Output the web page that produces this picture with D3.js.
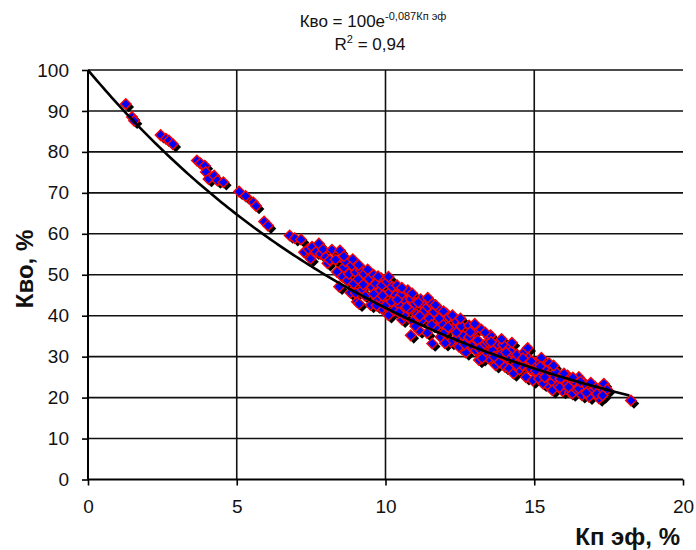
<!DOCTYPE html>
<html>
<head>
<meta charset="utf-8">
<script src="https://cdn.jsdelivr.net/npm/d3@7"></script>
<style>
  body { margin: 0; background: #fff; }
  svg { font-family: "Liberation Sans", Arial, sans-serif; }
</style>
</head>
<body>
<script>
// Кп эф, % (x) and Кво, % (y)
const kpEff = [
  1.27, 1.48, 1.55, 2.44, 2.62, 2.72, 2.85, 3.66, 3.78, 3.93, 3.96, 4.05, 4.24, 4.35, 4.55,
  5.08, 5.30, 5.55, 5.65, 5.92, 6.05,
  6.78, 6.95, 7.16, 7.26, 7.40, 7.53, 7.48, 7.66, 7.76, 7.82, 7.90, 7.99, 8.05, 8.12, 8.20,
  8.32, 8.37, 8.44, 8.47, 8.55, 8.60, 8.66, 8.72, 8.77, 8.82, 8.87, 8.93, 9.00, 9.04, 9.11,
  9.08, 9.17, 9.20, 9.28, 9.32, 9.38, 9.45, 9.50, 9.55, 9.60, 9.67, 9.72, 9.80, 9.85, 9.88,
  9.88, 9.95, 10.00, 10.05, 10.10, 10.15, 10.22, 10.29, 10.30, 10.34, 10.39, 10.45, 10.51,
  10.56, 10.62, 10.68, 10.75, 10.80, 10.85, 10.85, 10.92, 10.98, 11.05, 11.13, 11.18, 11.22,
  11.30, 11.35, 11.40, 11.48, 11.52, 11.57, 11.63, 11.70, 11.78, 11.85, 11.91, 11.98, 12.05,
  12.13, 12.20, 12.28, 12.35, 12.40, 12.47, 12.55, 12.62, 12.70, 12.75, 12.81, 12.81, 12.90,
  12.96, 13.03, 13.10, 13.14, 13.22, 13.30, 13.38, 13.44, 13.48, 13.48, 13.53, 13.60, 13.70,
  13.76, 13.82, 13.88, 13.95, 14.02, 14.08, 14.15, 14.15, 14.22, 14.30, 14.36, 14.42, 14.50,
  14.55, 14.60, 14.66, 14.72, 14.80, 14.88, 14.95, 15.02, 15.10, 15.16, 15.16, 15.24, 15.30,
  15.38, 15.45, 15.52, 15.61, 15.61, 15.68, 15.72, 15.80, 15.88, 15.95, 16.06, 16.12, 16.20,
  16.28, 16.35, 16.42, 16.50, 16.50, 16.60, 16.70, 16.84, 16.95, 17.05, 17.18, 17.25, 17.34,
  17.45, 18.25,
  8.60, 8.90, 9.10, 9.25, 9.40, 9.60, 9.75, 9.90, 10.10, 10.20, 10.40, 10.55, 10.70, 10.90,
  11.00, 11.10, 11.25, 11.42, 11.55, 11.68, 11.80, 11.95, 12.10, 12.25, 12.38, 12.52, 12.66,
  12.85, 13.00, 13.15, 13.35, 13.55, 13.65, 13.90, 14.05, 14.25, 14.40, 14.62, 14.78, 14.90,
  15.05, 15.20, 15.35, 15.50, 15.65, 15.85, 16.00, 16.15, 16.30, 16.55, 16.75, 16.90, 17.10,
  17.30, 9.00, 9.70, 10.45, 11.15, 12.00, 13.25
]
const kvo = [
  91.7, 88.5, 87.6, 84.1, 83.2, 82.8, 81.9, 77.9, 77.2, 76.6, 75.1, 73.4, 74.2, 73.0, 72.6,
  70.3, 69.2, 67.7, 66.8, 63.0, 62.0,
  59.6, 58.9, 58.6, 55.5, 56.3, 56.8, 53.9, 55.6, 57.6, 55.1, 56.2, 54.3, 52.8, 53.6, 56.1,
  53.7, 50.7, 47.1, 55.9, 49.5, 51.8, 53.2, 48.6, 50.2, 45.6, 52.3, 47.8, 50.6, 43.4, 42.9,
  48.9, 51.1, 46.3, 50.2, 44.8, 48.0, 49.0, 42.6, 46.9, 50.0, 47.8, 44.1, 45.9, 49.2, 41.7,
  47.4, 43.3, 42.5, 48.3, 40.1, 45.7, 47.0, 41.3, 44.0, 45.0, 47.4, 42.8, 45.0,
  39.0, 40.1, 43.6, 46.2, 41.7, 44.1, 35.2, 38.6, 42.9, 40.3, 36.4, 44.0, 38.9,
  42.4, 41.7, 35.8, 39.3, 43.2, 33.2, 40.9, 37.2, 41.8, 34.8, 38.0, 35.9, 40.5,
  39.7, 33.6, 36.8, 38.9, 34.5, 32.4, 37.4, 35.1, 31.0, 33.9, 37.6, 34.8, 32.6,
  36.2, 31.5, 34.0, 29.2, 36.6, 32.8, 30.4, 33.5, 34.8, 29.5, 35.2, 31.6, 27.9,
  33.1, 28.7, 30.6, 32.9, 27.5, 29.8, 32.0, 27.1, 31.2, 25.9, 29.2, 30.5, 26.8,
  28.5, 27.9, 31.1, 25.0, 29.6, 27.0, 24.2, 28.4, 26.0, 28.7, 24.6, 29.7, 23.4,
  27.3, 25.4, 22.6, 23.8, 21.8, 25.1, 26.3, 23.0, 24.6, 21.6, 23.0, 25.4, 21.3,
  21.0, 23.8, 22.0, 22.2, 25.0, 20.6, 23.4, 20.2, 21.8, 22.6, 19.8, 21.2, 23.4,
  22.0, 19.3,
  54.5, 53.8, 52.4, 47.6, 51.3, 45.3, 49.6, 44.9, 49.5, 43.4, 43.9, 46.8, 42.1, 45.4,
  37.4, 43.2, 40.8, 44.4, 37.8, 42.6, 39.3, 41.1, 37.2, 40.1, 35.9, 39.3, 33.0,
  36.0, 38.0, 32.0, 35.9, 33.6, 30.0, 34.3, 31.0, 33.4, 28.0, 29.6, 32.1, 28.9,
  26.5, 27.6, 25.0, 28.4, 27.8, 22.5, 25.9, 22.6, 24.9, 23.9, 21.2, 23.6, 20.9,
  20.5, 45.5, 42.5, 40.8, 39.9, 33.3, 29.6
]
const xTicks = [0, 5, 10, 15, 20]
const yTicks = [0, 10, 20, 30, 40, 50, 60, 70, 80, 90, 100]

// exponential trend from the title: Кво = 100e^(-0,087 Кп эф)
const trendA = 100
const trendB = -0.087
const trendEnd = 18.2

const width = 696, height = 550

const x = d3.scaleLinear().domain([0, 20]).range([88, 683])
const y = d3.scaleLinear().domain([0, 100]).range([479.5, 70])

const svg = d3.select('body').append('svg')
  .attr('width', width)
  .attr('height', height)

svg.append('rect').attr('width', width).attr('height', height).attr('fill', '#fff')

// gridlines
svg.append('g')
  .selectAll('line')
  .data(yTicks.filter(d => d > 0))
  .enter().append('line')
  .attr('x1', x(0)).attr('x2', x(20))
  .attr('y1', d => y(d)).attr('y2', d => y(d))
  .attr('stroke', '#111').attr('stroke-width', 1.6)

svg.append('g')
  .selectAll('line')
  .data(xTicks.filter(d => d > 0 && d < 20))
  .enter().append('line')
  .attr('x1', d => x(d)).attr('x2', d => x(d))
  .attr('y1', y(0)).attr('y2', y(100))
  .attr('stroke', '#111').attr('stroke-width', 1.6)

// axes
const xAxis = svg.append('g')
  .attr('transform', `translate(0,${y(0)})`)
  .call(d3.axisBottom(x).tickValues(xTicks).tickSize(6).tickPadding(14).tickFormat(d3.format('d')))
const yAxis = svg.append('g')
  .attr('transform', `translate(${x(0)},0)`)
  .call(d3.axisLeft(y).tickValues(yTicks).tickSize(6).tickPadding(13).tickFormat(d3.format('d')))

;[xAxis, yAxis].forEach(a => {
  a.select('.domain').attr('stroke', '#000').attr('stroke-width', 2)
  a.selectAll('.tick line').attr('stroke', '#000').attr('stroke-width', 1.6)
  a.selectAll('.tick text')
    .attr('fill', '#111')
    .style('font-size', '19px')
    .style('font-family', '"Liberation Sans", Arial, sans-serif')
})
xAxis.select('.domain').attr('d', `M${x(0)},0H${x(20)}`)
yAxis.select('.domain').attr('d', `M0,${y(0)}V${y(100)}`)

// markers: shadows first, then diamonds
const pts = kpEff.map((d, i) => [d, kvo[i]])
const r = 5.3
const diamond = `M0,${-r}L${r},0L0,${r}L${-r},0Z`

svg.append('g')
  .selectAll('path')
  .data(pts)
  .enter().append('path')
  .attr('d', diamond)
  .attr('transform', d => `translate(${x(d[0]) + 3},${y(d[1]) + 3})`)
  .attr('fill', '#000')

svg.append('g')
  .selectAll('path')
  .data(pts)
  .enter().append('path')
  .attr('d', diamond)
  .attr('transform', d => `translate(${x(d[0])},${y(d[1])})`)
  .attr('fill', '#0000ff')
  .attr('stroke', '#ff0000')
  .attr('stroke-width', 1.4)

// trend line
const trend = d3.range(0, trendEnd + 0.001, 0.1).map(v => [v, trendA * Math.exp(trendB * v)])
svg.append('path')
  .datum(trend)
  .attr('fill', 'none')
  .attr('stroke', '#000')
  .attr('stroke-width', 2.6)
  .attr('d', d3.line().x(d => x(d[0])).y(d => y(d[1])))

// title
const title = svg.append('text')
  .attr('x', 373).attr('y', 27)
  .attr('text-anchor', 'middle')
  .attr('fill', '#111')
  .style('font-size', '17px')
title.append('tspan').text('Кво = 100e')
title.append('tspan').attr('dy', -7).style('font-size', '11px').text('-0,087Кп эф')

const r2 = svg.append('text')
  .attr('x', 370).attr('y', 50)
  .attr('text-anchor', 'middle')
  .attr('fill', '#111')
  .style('font-size', '17px')
r2.append('tspan').text('R')
r2.append('tspan').attr('dy', -7).style('font-size', '11px').text('2')
r2.append('tspan').attr('dy', 7).text(' = 0,94')

// axis titles
svg.append('text')
  .attr('x', 680).attr('y', 545)
  .attr('text-anchor', 'end')
  .attr('fill', '#111')
  .style('font-size', '24px')
  .style('font-weight', 'bold')
  .text('Кп эф, %')

svg.append('text')
  .attr('transform', 'translate(33,269) rotate(-90)')
  .attr('text-anchor', 'middle')
  .attr('fill', '#111')
  .style('font-size', '24px')
  .style('font-weight', 'bold')
  .text('Кво, %')
</script>
</body>
</html>
